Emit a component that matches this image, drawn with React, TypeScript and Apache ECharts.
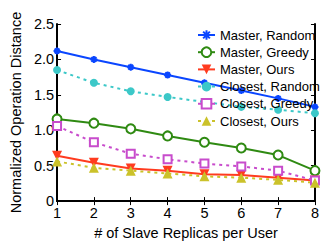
import React, { useEffect, useRef } from "react";
import * as echarts from "echarts";

const replicas = [1, 2, 3, 4, 5, 6, 7, 8];
const masterRandom = [2.12, 2.0, 1.89, 1.78, 1.67, 1.56, 1.45, 1.33];
const masterGreedy = [1.16, 1.1, 1.02, 0.92, 0.83, 0.75, 0.65, 0.43];
const masterOurs = [0.64, 0.54, 0.46, 0.43, 0.38, 0.37, 0.33, 0.29];
const closestRandom = [1.85, 1.67, 1.55, 1.47, 1.4, 1.33, 1.29, 1.24];
const closestGreedy = [1.06, 0.83, 0.67, 0.59, 0.53, 0.49, 0.43, 0.29];
const closestOurs = [0.56, 0.47, 0.43, 0.39, 0.35, 0.33, 0.3, 0.26];
const yTicks = ["0", "0.5", "1.0", "1.5", "2.0", "2.5"];

const FONT = "Liberation Sans";
const STAR =
  "path://M0,-5L0,5M-5,0L5,0M-3.5,-3.5L3.5,3.5M-3.5,3.5L3.5,-3.5";

function pts(vals: number[]) {
  return replicas.map((x, i) => [x, vals[i]]);
}

export default function App() {
  const ref = useRef<HTMLDivElement>(null);
  useEffect(() => {
    if (!ref.current) return;
    const chart = echarts.init(ref.current, undefined, { renderer: "svg" });
    const dotted = [3, 4];
    const mk = (
      name: string,
      vals: number[],
      color: string,
      symbol: string,
      size: number,
      dashed: boolean,
      extra: any = {}
    ) => ({
      type: "line",
      name,
      data: pts(vals),
      symbol,
      symbolSize: size,
      showSymbol: true,
      lineStyle: { color, width: 2, type: dashed ? dotted : "solid" },
      itemStyle: { color, borderColor: color, borderWidth: 2 },
      emphasis: { disabled: true },
      ...extra,
    });
    const axisLine = { show: true, lineStyle: { color: "#000", width: 2 } };
    const tick = { show: true, inside: true, length: 4, lineStyle: { color: "#000", width: 1 } };
    chart.setOption({
      animation: false,
      textStyle: { fontFamily: FONT },
      grid: { left: 48, right: 4, top: 24, bottom: 37 },
      legend: {
        orient: "vertical",
        left: 197,
        top: 27,
        padding: 0,
        itemWidth: 17,
        itemHeight: 12,
        itemGap: 1.2,
        textStyle: { fontFamily: FONT, fontSize: 13, lineHeight: 16, color: "#000" },
        data: [
          "Master, Random",
          "Master, Greedy",
          "Master, Ours",
          "Closest, Random",
          "Closest, Greedy",
          "Closest, Ours",
        ],
      },
      xAxis: [
        {
          type: "value",
          min: 1,
          max: 8,
          interval: 1,
          name: "# of Slave Replicas per User",
          nameLocation: "middle",
          nameGap: 20,
          nameTextStyle: { fontSize: 14.5, color: "#000", fontFamily: FONT },
          axisLine,
          axisTick: tick,
          axisLabel: { fontSize: 14.5, color: "#000", margin: 4, fontFamily: FONT },
          splitLine: { show: false },
        },
        {
          type: "value",
          position: "top",
          min: 1,
          max: 8,
          interval: 1,
          axisLine,
          axisTick: tick,
          axisLabel: { show: false },
          splitLine: { show: false },
        },
      ],
      yAxis: [
        {
          type: "value",
          min: 0,
          max: 2.5,
          interval: 0.5,
          name: "Normalized Operation Distance",
          nameLocation: "middle",
          nameGap: 26,
          nameTextStyle: { fontSize: 14.5, color: "#000", fontFamily: FONT },
          axisLine,
          axisTick: tick,
          axisLabel: {
            fontSize: 14.5,
            color: "#000",
            margin: 3,
            fontFamily: FONT,
            formatter: (v: number) => yTicks[Math.round(v / 0.5)],
          },
          splitLine: { show: false },
        },
        {
          type: "value",
          position: "right",
          min: 0,
          max: 2.5,
          interval: 0.5,
          axisLine,
          axisTick: tick,
          axisLabel: { show: false },
          splitLine: { show: false },
        },
      ],
      series: [
        mk("Master, Random", masterRandom, "#0a46ff", STAR, 7, false),
        mk("Master, Greedy", masterGreedy, "#2f8a12", "emptyCircle", 9, false),
        mk("Master, Ours", masterOurs, "#ff3b1f", "triangle", 10, false, {
          symbolRotate: 180,
          itemStyle: { color: "#ff3b1f", borderWidth: 0 },
        }),
        mk("Closest, Random", closestRandom, "#3cc8c8", "circle", 8, true, {
          itemStyle: { color: "#3cc8c8", borderWidth: 0 },
        }),
        mk("Closest, Greedy", closestGreedy, "#c84ccc", "emptyRect", 8, true),
        mk("Closest, Ours", closestOurs, "#cbc22a", "triangle", 10, true, {
          itemStyle: { color: "#cbc22a", borderWidth: 0 },
        }),
      ],
    });
    return () => chart.dispose();
  }, []);
  return (
    <div
      ref={ref}
      style={{ position: "absolute", left: 0, top: 0, width: 322, height: 245 }}
    />
  );
}
